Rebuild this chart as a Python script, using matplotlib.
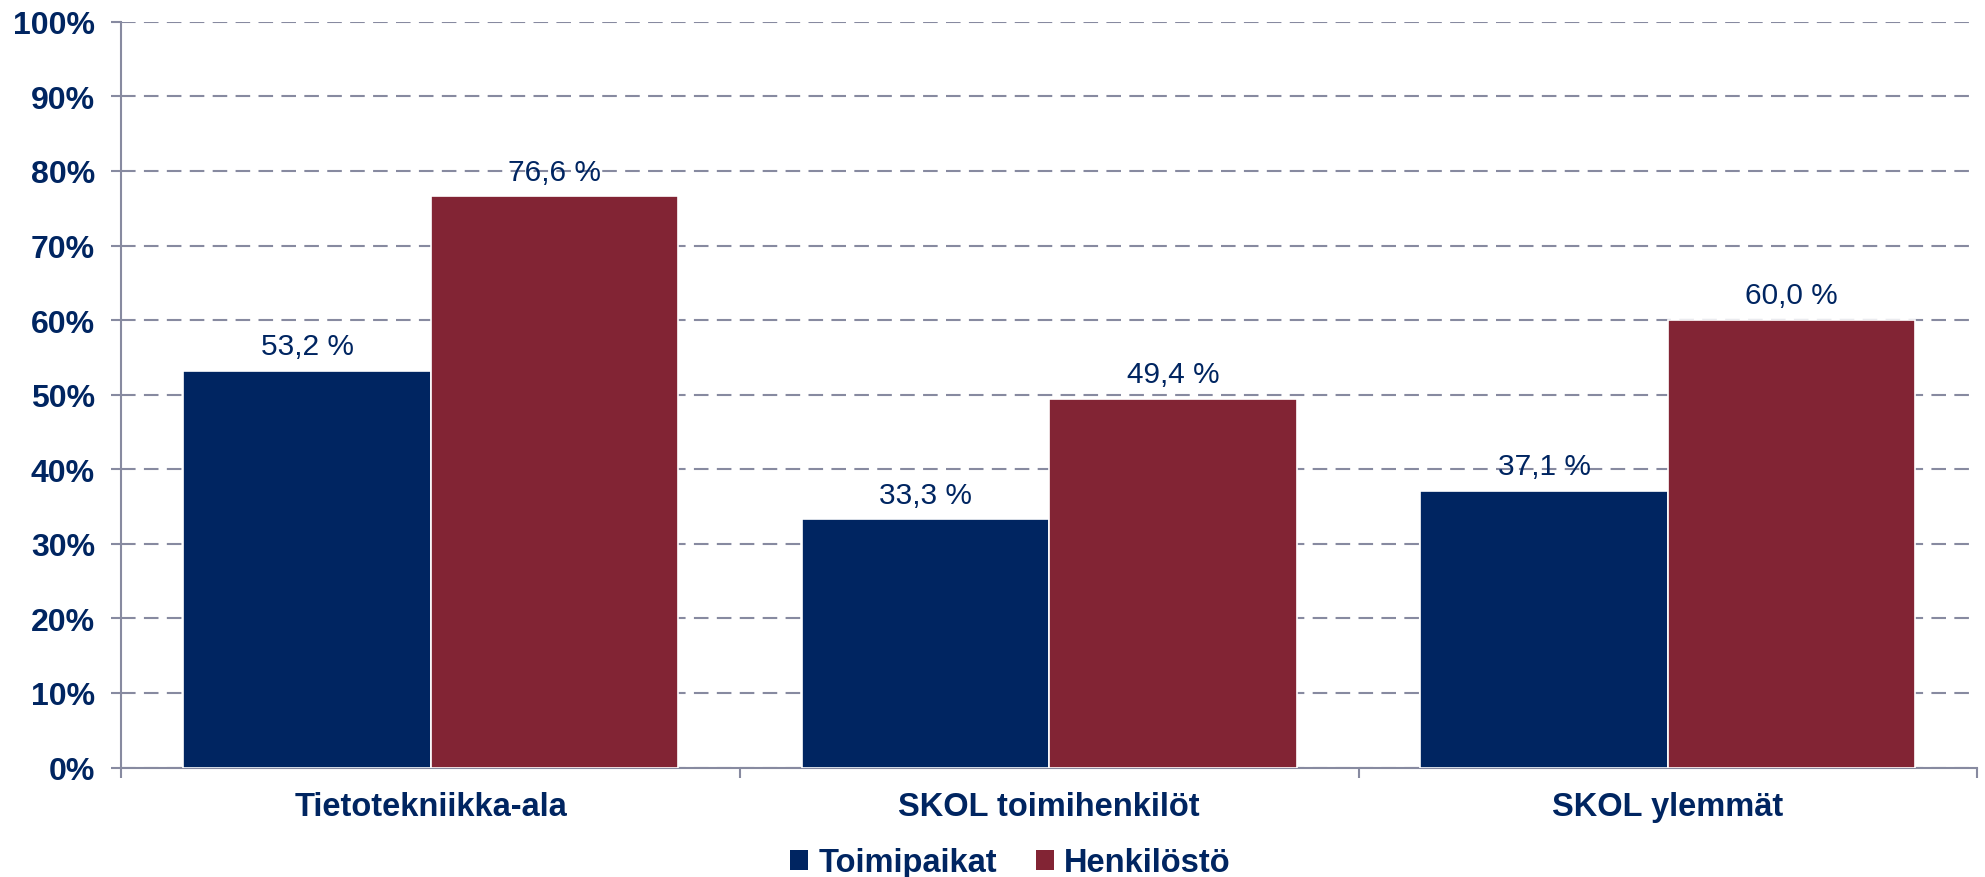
import numpy as np
import matplotlib.pyplot as plt
from matplotlib.patches import Patch
from matplotlib.ticker import PercentFormatter, FixedLocator

plt.rcParams['font.family'] = ['Liberation Sans', 'DejaVu Sans']

categories = ["Tietotekniikka-ala", "SKOL toimihenkilöt", "SKOL ylemmät"]
series_names = ["Toimipaikat", "Henkilöstö"]
toimipaikat = [53.2, 33.3, 37.1]
henkilosto = [76.6, 49.4, 60.0]

navy = '#002561'
wine = '#822434'
gridc = '#878AA0'

fig = plt.figure(figsize=(19.85, 8.78), dpi=100)
ax = fig.add_axes([0.0612, 0.1247, 0.9348, 0.8493])

x = np.arange(len(categories))
w = 0.4
b1 = ax.bar(x - w / 2, np.array(toimipaikat) / 100, w, color=navy,
            edgecolor='white', linewidth=1.2, zorder=3)
b2 = ax.bar(x + w / 2, np.array(henkilosto) / 100, w, color=wine,
            edgecolor='white', linewidth=1.2, zorder=3)

# value labels above bars, finnish decimal comma
for bars, vals in [(b1, toimipaikat), (b2, henkilosto)]:
    for r, v in zip(bars, vals):
        ax.annotate(f"{v:.1f} %".replace('.', ','),
                    (r.get_x() + r.get_width() / 2, r.get_height()),
                    xytext=(0, 12), textcoords='offset points',
                    ha='center', va='baseline', fontsize=21.5, color=navy, zorder=4)

ax.set_xlim(-0.5, 2.5)
ax.set_ylim(0, 1)
ax.yaxis.set_major_locator(FixedLocator(np.linspace(0, 1, 11)))
ax.yaxis.set_major_formatter(PercentFormatter(1.0, decimals=0))
ax.grid(axis='y', color=gridc, linestyle=(0, (7, 4)), linewidth=1.5, zorder=0)
ax.set_axisbelow(True)

ax.set_xticks([-0.5, 0.5, 1.5, 2.5])
ax.set_xticklabels([])
ax.set_xticks(x, minor=True)
ax.set_xticklabels(categories, minor=True)
ax.tick_params(axis='x', which='major', length=7, width=1.5, color=gridc, direction='out')
ax.tick_params(axis='x', which='minor', length=0, pad=17)
ax.tick_params(axis='y', length=7, width=1.5, color=gridc, pad=12)

for lab in ax.get_yticklabels():
    lab.set_fontsize(23)
    lab.set_fontweight('bold')
    lab.set_color(navy)
for lab in ax.get_xticklabels(minor=True):
    lab.set_fontsize(23.5)
    lab.set_fontweight('bold')
    lab.set_color(navy)

for s in ['top', 'right']:
    ax.spines[s].set_visible(False)
for s in ['left', 'bottom']:
    ax.spines[s].set_color(gridc)
    ax.spines[s].set_linewidth(1.5)

handles = [Patch(facecolor=navy), Patch(facecolor=wine)]
leg = fig.legend(handles, series_names, loc='center', bbox_to_anchor=(0.509, 0.016),
                 ncol=2, frameon=False, handlelength=0.55, handleheight=0.55,
                 handletextpad=0.3, columnspacing=1.2,
                 prop={'size': 23.5, 'weight': 'bold'}, labelcolor=navy)

fig.savefig('out.png', dpi=100)
